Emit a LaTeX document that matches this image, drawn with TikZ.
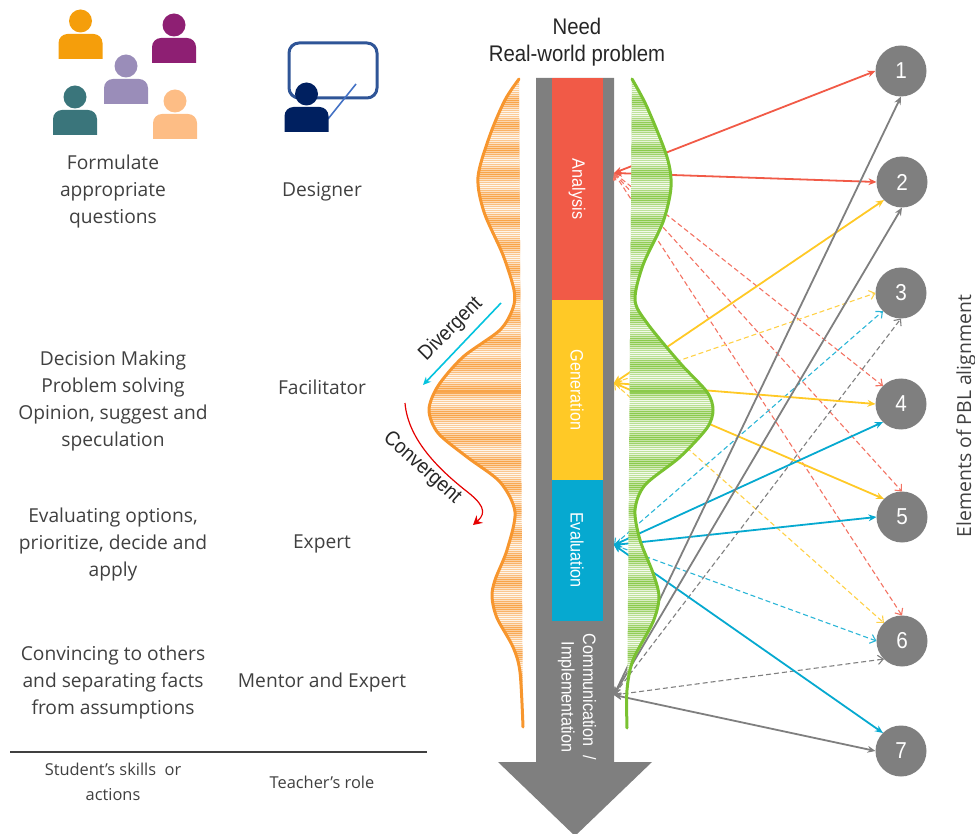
\documentclass[tikz,border=0pt]{standalone}
\usepackage{fontspec}
\usepackage{tikz}
\usetikzlibrary{arrows.meta}
\setmainfont{Open Sans}
\newfontfamily\arrowfont[FakeStretch=0.9]{Liberation Sans}

\definecolor{redseg}{HTML}{F15A47}
\definecolor{yellowseg}{HTML}{FFC926}
\definecolor{blueseg}{HTML}{06A9D0}
\definecolor{grayseg}{HTML}{7F7F7F}
\definecolor{darktext}{HTML}{404040}
\definecolor{orangeline}{HTML}{F7962E}
\definecolor{greenline}{HTML}{7AC231}
\definecolor{personorange}{HTML}{F59E0B}
\definecolor{personpurple}{HTML}{8E1F73}
\definecolor{personlilac}{HTML}{9A8DB9}
\definecolor{personteal}{HTML}{3A757B}
\definecolor{personpeach}{HTML}{FDBD85}
\definecolor{personnavy}{HTML}{002060}
\definecolor{boardblue}{HTML}{2F5597}
\definecolor{pointerblue}{HTML}{4472C4}

\def\orangecurve{(519,79) (505,100) (490,135) (478,177) (484,212) (503,255) (514,290) (513,308) (500,330) (463,357) (438,386) (429,410) (438,433) (467,457) (500,482) (515,512) (507,550) (495,580) (492,597) (497,618) (513,647) (520,672) (523,727)}
\def\greencurve{(632,79) (647,107) (667,157) (671,187) (663,222) (643,265) (635,300) (647,323) (680,363) (707,392) (713,410) (707,428) (680,457) (645,485) (635,510) (640,540) (653,573) (659,597) (653,622) (633,660) (627,690) (627,728)}

\newcommand{\person}[3]{
\fill[#3] (#1,#2-13) circle[radius=11.5];
\fill[#3] (#1-22,#2+25) {[rounded corners=4.5pt] -- (#1-22,#2) -- (#1+22,#2)} -- (#1+22,#2+25) -- cycle;
}

\begin{document}
\begin{tikzpicture}[x=0.5pt,y=-0.5pt,
  every node/.style={outer sep=0pt},
  skill/.style={font=\fontsize{9.6}{13.5}\selectfont, align=center, text=darktext},
  caption/.style={font=\fontsize{8.2}{12.5}\selectfont, align=center, text=darktext},
  phase/.style={font=\arrowfont\fontsize{9}{10.8}\selectfont, align=center, text=white, rotate=-90},
  flow/.style={font=\arrowfont\fontsize{10.4}{13.5}\selectfont, align=center, text=black!85},
  element/.style={circle, fill=grayseg, minimum size=25.5pt, inner sep=0pt, text=white, font=\arrowfont\fontsize{11.5}{12}\selectfont},
  link/.style={line width=0.9pt, {Stealth[length=4pt,width=3.4pt]}-{Stealth[length=4pt,width=3.4pt]}},
  dlink/.style={line width=0.55pt, dash pattern=on 2.5pt off 1.5pt, {Straight Barb[length=2.6pt,width=4.6pt]}-{Straight Barb[length=2.6pt,width=4.6pt]}}]
\useasboundingbox (0,0) rectangle (975,834);

\person{80.5}{34}{personorange}
\person{174}{38}{personpurple}
\person{126}{79}{personlilac}
\person{75}{110}{personteal}
\person{175}{114}{personpeach}
\draw[line width=1.5pt, rounded corners=5pt, color=boardblue] (289,43) rectangle (377,98);
\draw[line width=0.8pt, color=pointerblue] (328,119) -- (356,84);
\person{306.5}{107}{personnavy}

\node[skill] (formulate) at (113,192) {Formulate\\appropriate\\questions};
\node[skill] (designer) at (322,192) {Designer};
\node[skill] (decision) at (113,401) {Decision Making\\Problem solving\\Opinion, suggest and\\speculation};
\node[skill] (facilitator) at (322,387) {Facilitator};
\node[skill] (evaluating) at (113,545) {Evaluating options,\\prioritize, decide and\\apply};
\node[skill] (expert) at (322,544) {Expert};
\node[skill] (convincing) at (113,683) {Convincing to others\\and separating facts\\from assumptions};
\node[skill] (mentor) at (322,683) {Mentor and Expert};
\coordinate (ruleleft) at (10,752);
\coordinate (ruleright) at (427,752);
\draw[line width=0.7pt, color=darktext] (ruleleft) -- (ruleright);
\node[caption] (skills) at (113,782) {Student's skills\ \ or\\actions};
\node[caption] (role) at (322,782) {Teacher's role};

\node[flow, font=\arrowfont\fontsize{11.3}{13.5}\selectfont] (need) at (577,42) {Need\\Real-world problem};
\node[element] (e1) at (901,71) {1};
\node[element] (e2) at (902,182) {2};
\node[element] (e3) at (901,293) {3};
\node[element] (e4) at (901,404) {4};
\node[element] (e5) at (902,517) {5};
\node[element] (e6) at (902,641) {6};
\node[element] (e7) at (901,751) {7};
\node[font=\fontsize{9.7}{12}\selectfont, text=darktext, rotate=90] (alignment) at (966,416) {Elements of PBL alignment};

\fill[grayseg] (536,78) -- (614,78) -- (614,762) -- (652,762) -- (575,836) -- (498,762) -- (536,762) -- cycle;
\fill[redseg] (552,78) rectangle (603,300);
\fill[yellowseg] (552,300) rectangle (603,480);
\fill[blueseg] (552,480) rectangle (603,621);
\node[phase] (analysis) at (577,189) {Analysis};
\node[phase] (generation) at (577,390) {Generation};
\node[phase] (evaluation) at (577,550) {Evaluation};
\node[phase] (communication) at (577,697) {Communication\ \ /\\Implementation};

\coordinate (ana) at (614,173);
\coordinate (gen) at (614,383);
\coordinate (eva) at (614,545);
\coordinate (com) at (614,695);

\draw[dlink, redseg!85!white] (ana) -- (e4.135);
\draw[dlink, redseg!85!white] (ana) -- (e5.north);
\draw[dlink, redseg!85!white] (ana) -- (e6.north);
\draw[dlink, yellowseg!85!white] (gen) -- (e3.west);
\draw[dlink, yellowseg!85!white] (gen) -- (e6.135);
\draw[dlink, blueseg!85!white] (eva) -- (e3.225);
\draw[dlink, blueseg!85!white] (eva) -- (e6.west);
\draw[dlink, grayseg] (com) -- (e3.south);
\draw[dlink, grayseg] (com) -- (e6.225);
\draw[link, redseg] (ana) -- (e1.west);
\draw[link, redseg] (ana) -- (e2.west);
\draw[link, yellowseg] (gen) -- (e2.225);
\draw[link, yellowseg] (gen) -- (e4.west);
\draw[link, yellowseg] (gen) -- (e5.135);
\draw[link, blueseg] (eva) -- (e4.225);
\draw[link, blueseg] (eva) -- (e5.west);
\draw[link, blueseg] (eva) -- (e7.135);
\draw[link, grayseg] (com) -- (e1.south);
\draw[link, grayseg] (com) -- (e2.south);
\draw[link, grayseg] (com) -- (e7.west);

\begin{scope}
\clip plot[smooth] coordinates {\orangecurve} -- cycle;
\foreach \y in {78,79,...,730}{
  \pgfmathsetmacro\mix{int(28+20*sin(\y*15)+40*mod(\y,2))}
  \fill[orangeline!\mix!white] (420,\y-0.5) rectangle (530,\y+0.6);
}
\end{scope}
\draw[orangeline, line width=1.5pt, line cap=round] plot[smooth] coordinates {\orangecurve};

\begin{scope}
\clip plot[smooth] coordinates {\greencurve} -- cycle;
\foreach \y in {78,79,...,730}{
  \pgfmathsetmacro\mix{int(28+20*sin(\y*15)+40*mod(\y,2))}
  \fill[greenline!\mix!white] (620,\y-0.5) rectangle (720,\y+0.6);
}
\end{scope}
\draw[greenline, line width=1.5pt, line cap=round] plot[smooth] coordinates {\greencurve};

\coordinate (divstart) at (501,303);
\coordinate (divend) at (423,385);
\draw[-{Stealth[length=4pt,width=3.6pt]}, color=blueseg!70!cyan, line width=0.8pt] (divstart) -- (divend);
\node[flow, rotate=45] (divergent) at (451,329) {Divergent};
\coordinate (constart) at (405,403);
\coordinate (conend) at (473,525);
\draw[-{Stealth[length=4.5pt,width=5pt,inset=1.5pt]}, color=red!90!black, line width=0.6pt] (constart) .. controls (408,440) and (440,470) .. (465,490) .. controls (482,503) and (488,512) .. (conend);
\node[flow, rotate=-42] (convergent) at (422,468) {Convergent};
\end{tikzpicture}
\end{document}
